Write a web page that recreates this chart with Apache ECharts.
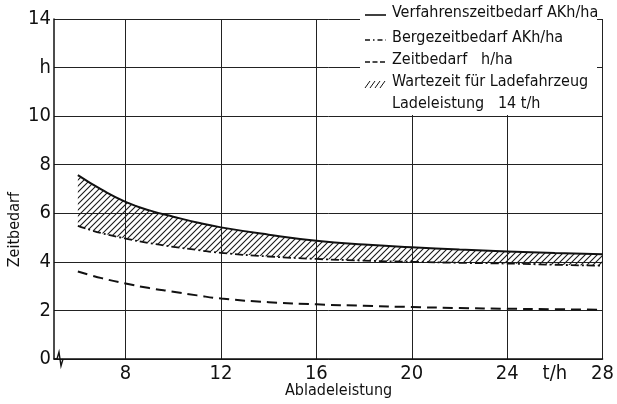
<!DOCTYPE html>
<html><head><meta charset="utf-8">
<script src="https://cdn.jsdelivr.net/npm/echarts@6/dist/echarts.min.js"></script>
<style>html,body{margin:0;padding:0;background:#fff}#c{width:617px;height:404px}</style>
</head><body><div id="c"></div>
<script>
// ---- data ----
const xValues        = [6, 7, 8, 9, 10, 11, 12, 14, 16, 18, 20, 22, 24, 26, 28];
const verfahrenszeit = [7.57, 6.97, 6.47, 6.12, 5.86, 5.62, 5.42, 5.12, 4.87, 4.71, 4.60, 4.51, 4.43, 4.36, 4.31];
const bergezeit      = [5.48, 5.18, 4.96, 4.77, 4.62, 4.49, 4.37, 4.22, 4.12, 4.05, 4.00, 3.96, 3.93, 3.88, 3.84];
const zeitbedarf     = [3.60, 3.33, 3.11, 2.92, 2.77, 2.62, 2.49, 2.34, 2.25, 2.19, 2.14, 2.10, 2.07, 2.05, 2.03];
const xGridValues    = [8, 12, 16, 20, 24, 28];
const xLabelValues   = [8, 12, 16, 20, 24, 26, 28];
const xLabelTexts    = ['8', '12', '16', '20', '24', 't/h', '28'];
const yLabelValues   = [0, 2, 4, 6, 8, 10, 12, 14];
const yLabelTexts    = ['0', '2', '4', '6', '8', '10', 'h', '14'];
const legendTexts    = ['Verfahrenszeitbedarf AKh/ha', 'Bergezeitbedarf AKh/ha', 'Zeitbedarf   h/ha', 'Wartezeit für Ladefahrzeug', 'Ladeleistung   14 t/h'];

const FONT = "'Liberation Sans Narrow','DejaVu Sans Condensed','Liberation Sans',sans-serif";
const INK = '#111';

function pairs(arr) { return xValues.map((x, i) => [x, arr[i]]); }

// hatch pattern
const pc = document.createElement('canvas');
pc.width = 6; pc.height = 6;
const g = pc.getContext('2d');
g.strokeStyle = '#1a1a1a'; g.lineWidth = 1.1;
g.beginPath();
g.moveTo(0, 6); g.lineTo(6, 0);
g.moveTo(-1, 1); g.lineTo(1, -1);
g.moveTo(5, 7); g.lineTo(7, 5);
g.stroke();

const chart = echarts.init(document.getElementById('c'), null, {renderer: 'canvas'});

const legendGraphics = [];
const rowsY = [15, 40, 62, 84, 106];
legendTexts.forEach((t, i) => {
  legendGraphics.push({
    type: 'text', left: 392, top: rowsY[i] - 10, z: 102,
    style: {text: t, font: '16px ' + FONT, fill: INK}
  });
});
legendGraphics.push({type: 'line', z: 102, shape: {x1: 365, y1: rowsY[0], x2: 386, y2: rowsY[0]}, style: {stroke: INK, lineWidth: 1.6}});
legendGraphics.push({type: 'line', z: 102, shape: {x1: 365, y1: rowsY[1], x2: 386, y2: rowsY[1]}, style: {stroke: INK, lineWidth: 1.6, lineDash: [5, 3, 1.5, 3]}});
legendGraphics.push({type: 'line', z: 102, shape: {x1: 365, y1: rowsY[2], x2: 386, y2: rowsY[2]}, style: {stroke: INK, lineWidth: 1.6, lineDash: [5, 2.5]}});
for (let k = 0; k < 4; k++) {
  legendGraphics.push({type: 'line', z: 102, shape: {x1: 365 + 5 * k, y1: rowsY[3] + 4, x2: 370 + 5 * k, y2: rowsY[3] - 3}, style: {stroke: INK, lineWidth: 1}});
}

chart.setOption({
  animation: false,
  backgroundColor: '#fff',
  grid: {left: 54, right: 14, top: 19, bottom: 45, containLabel: false},
  xAxis: {
    type: 'value', min: 5, max: 28,
    axisLine: {show: true, onZero: false, lineStyle: {color: INK, width: 1.5}},
    axisTick: {show: false, customValues: xGridValues},
    splitLine: {show: true, lineStyle: {color: '#222', width: 1}},
    axisLabel: {
      customValues: xLabelValues, margin: 5,
      formatter: v => xLabelTexts[xLabelValues.indexOf(v)],
      color: INK, fontSize: 20, fontFamily: FONT
    }
  },
  yAxis: {
    type: 'value', min: 0, max: 14, interval: 2,
    axisLine: {show: true, lineStyle: {color: INK, width: 1.5}},
    axisTick: {show: false},
    splitLine: {show: true, lineStyle: {color: '#222', width: 1}},
    axisLabel: {
      margin: 3,
      formatter: v => yLabelTexts[yLabelValues.indexOf(v)],
      color: INK, fontSize: 20, fontFamily: FONT
    }
  },
  series: [
    {type: 'custom', name: 'Wartezeit', data: [0], silent: true, z: 2, clip: true,
     renderItem: (params, api) => {
       const top = xValues.map((x, i) => api.coord([x, verfahrenszeit[i]]));
       const bot = xValues.map((x, i) => api.coord([x, bergezeit[i]])).reverse();
       return {type: 'polygon', shape: {points: top.concat(bot)},
               style: {fill: {image: pc, repeat: 'repeat'}, stroke: null}};
     }},
    {type: 'line', name: 'Verfahrenszeitbedarf', data: pairs(verfahrenszeit), smooth: true, symbol: 'none',
     lineStyle: {color: INK, width: 2}, z: 3},
    {type: 'line', name: 'Bergezeitbedarf', data: pairs(bergezeit), smooth: true, symbol: 'none',
     lineStyle: {color: INK, width: 1.8, type: [8, 3, 2, 3]}, z: 3},
    {type: 'line', name: 'Zeitbedarf', data: pairs(zeitbedarf), smooth: true, symbol: 'none',
     lineStyle: {color: INK, width: 2, type: [10, 6]}, z: 3}
  ],
  graphic: [
    {type: 'rect', z: 100, shape: {x: 360, y: 0, width: 237, height: 115}, style: {fill: '#fff'}},
    ...legendGraphics,
    {type: 'text', z: 102, left: 285, top: 383, style: {text: 'Abladeleistung', font: '16px ' + FONT, fill: INK}},
    {type: 'text', z: 102, left: 7, top: 192, rotation: Math.PI / 2,
     style: {text: 'Zeitbedarf', font: '16px ' + FONT, fill: INK}},
    {type: 'polyline', z: 102, shape: {points: [[54, 359], [57, 359], [59, 352], [61, 366], [63, 359]]},
     style: {stroke: INK, lineWidth: 1.4, fill: null}}
  ]
});
</script>
</body></html>
